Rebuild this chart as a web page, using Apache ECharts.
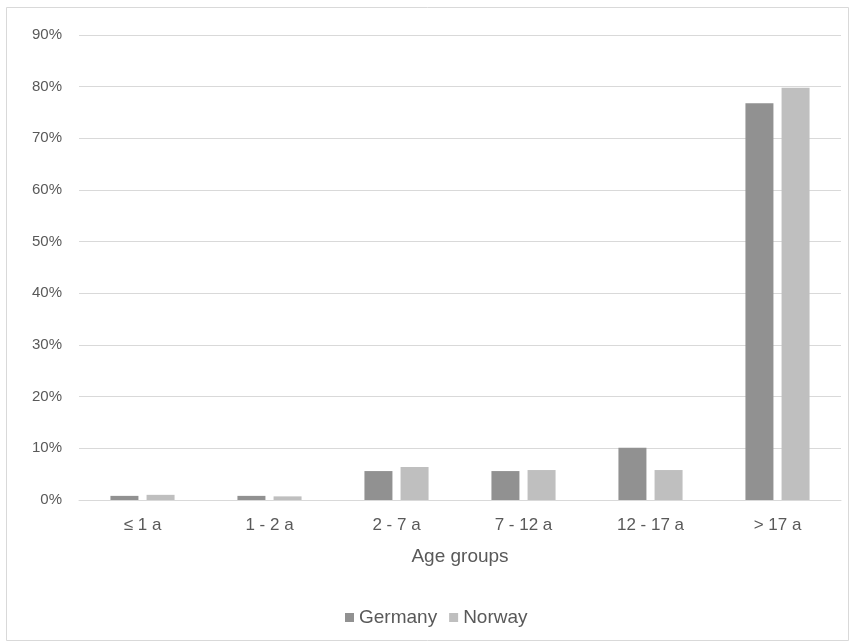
<!DOCTYPE html>
<html>
<head>
<meta charset="utf-8">
<script src="https://cdn.jsdelivr.net/npm/echarts@6/dist/echarts.min.js"></script>
<style>
  html, body { margin: 0; padding: 0; background: #ffffff; }
  #chart { width: 854px; height: 642px; }
</style>
</head>
<body>
<div id="chart"></div>
<script>
// Age-group shares (%) per country
const categories = ['≤ 1 a', '1 - 2 a', '2 - 7 a', '7 - 12 a', '12 - 17 a', '> 17 a'];
const germany = [0.8, 0.8, 5.6, 5.6, 10.1, 76.8];
const norway = [1.0, 0.7, 6.4, 5.8, 5.8, 79.8];
const yTicks = { min: 0, max: 90, interval: 10 };

const textColor = '#595959';
const font = 'Liberation Sans, Arial, sans-serif';

const chart = echarts.init(document.getElementById('chart'));
chart.setOption({
  animation: false,
  backgroundColor: '#ffffff',
  textStyle: { fontFamily: font, color: textColor },
  graphic: [{
    type: 'rect',
    shape: { x: 6.5, y: 7.5, width: 842, height: 633 },
    style: { fill: 'none', stroke: '#d9d9d9', lineWidth: 1 },
    silent: true
  }],
  grid: { left: 79, right: 13, top: 35, bottom: 142, containLabel: false },
  legend: {
    left: 340, top: 603,
    icon: 'rect', itemWidth: 9, itemHeight: 9, itemGap: 12,
    textStyle: { fontFamily: font, fontSize: 19, color: textColor },
    data: ['Germany', 'Norway']
  },
  xAxis: {
    type: 'category',
    data: categories,
    name: 'Age groups',
    nameLocation: 'middle',
    nameGap: 47,
    nameTextStyle: { fontFamily: font, fontSize: 19, color: textColor },
    axisLine: { lineStyle: { color: '#d9d9d9', width: 1 } },
    axisTick: { show: false },
    axisLabel: { margin: 17, fontFamily: font, fontSize: 17, color: textColor }
  },
  yAxis: {
    type: 'value',
    min: yTicks.min, max: yTicks.max, interval: yTicks.interval,
    axisLine: { show: false },
    axisTick: { show: false },
    splitLine: { lineStyle: { color: '#d9d9d9', width: 1 } },
    axisLabel: { margin: 17, fontFamily: font, fontSize: 15, color: textColor,
                 formatter: v => v + '%' }
  },
  series: [
    { name: 'Germany', type: 'bar', data: germany, barWidth: 28, barGap: '29%',
      itemStyle: { color: '#919191' } },
    { name: 'Norway', type: 'bar', data: norway, barWidth: 28,
      itemStyle: { color: '#bfbfbf' } }
  ]
});
</script>
</body>
</html>
